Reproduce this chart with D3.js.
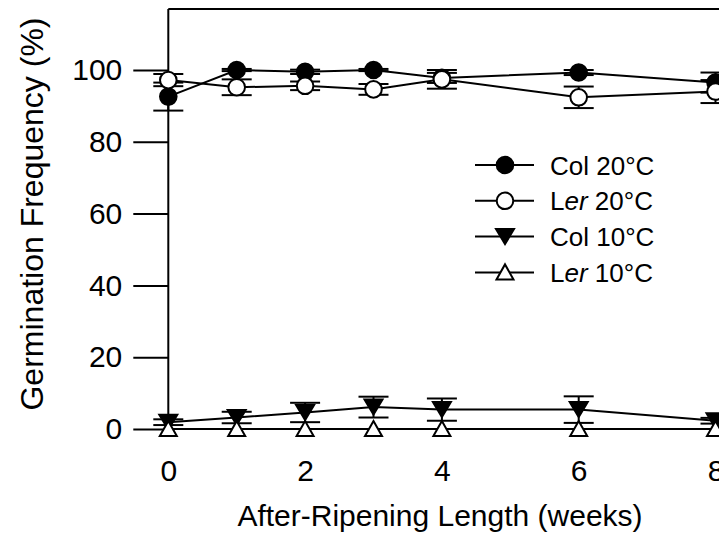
<!DOCTYPE html>
<html>
<head>
<meta charset="utf-8">
<script src="https://cdn.jsdelivr.net/npm/d3@7"></script>
<style>
  html, body { margin: 0; padding: 0; background: #fff; }
  svg { display: block; }
  text { font-family: "Liberation Sans", Arial, sans-serif; fill: #000; }
</style>
</head>
<body>
<svg id="chart" width="719" height="544"></svg>
<script>
// after-ripening length, weeks
var weeks = [0, 1, 2, 3, 4, 6, 8];

// germination frequency (%) and error, per series
var col20 = [92.6, 100, 99.5, 100, 97.8, 99.3, 96.5];
var col20Err = [3.9, 0.3, 0.6, 0.3, 1.4, 0.7, 2.8];
var ler20 = [97.2, 95.2, 95.6, 94.6, 97.4, 92.4, 94.0];
var ler20Err = [1.7, 2.2, 1.2, 1.5, 2.6, 3.0, 3.2];
var col10 = [1.9, 3.2, 4.6, 6.1, 5.4, 5.4, 2.3];
var col10Err = [0.8, 1.6, 2.7, 2.9, 3.1, 3.7, 0.8];
var ler10 = [0, 0, 0, 0, 0, 0, 0];
var ler10Err = [0, 0, 0, 0, 0, 0, 0];

var yTicks = [0, 20, 40, 60, 80, 100];
var xTicks = [0, 2, 4, 6, 8];

var seriesNames = ['Col 20°C', 'Ler 20°C', 'Col 10°C', 'Ler 10°C'];

var svg = d3.select('#chart');

var x = d3.scaleLinear().domain([0, 8]).range([168.3, 715.5]);
var y = d3.scaleLinear().domain([0, 117]).range([429, 9]);

// marker shapes
var tri = 'M -9 -7.5 L 9 -7.5 L 0 7.5 Z';    // pointing down
var triUp = 'M -8.5 7 L 8.5 7 L 0 -8 Z';     // pointing up

var series = [
  {name: seriesNames[0], values: col20, err: col20Err, shape: 'circle', fill: '#000'},
  {name: seriesNames[2], values: col10, err: col10Err, shape: 'down', fill: '#000'},
  {name: seriesNames[1], values: ler20, err: ler20Err, shape: 'circle', fill: '#fff'},
  {name: seriesNames[3], values: ler10, err: ler10Err, shape: 'up', fill: '#fff'}
];

function drawMarker(g, shape, fill) {
  if (shape === 'circle') {
    g.append('circle').attr('r', 8.3)
      .attr('fill', fill).attr('stroke', '#000').attr('stroke-width', 2);
  } else {
    g.append('path').attr('d', shape === 'down' ? tri : triUp)
      .attr('fill', fill).attr('stroke', '#000').attr('stroke-width', 2)
      .attr('stroke-linejoin', 'miter');
  }
}

// frame lines (top, bottom)
svg.append('line').attr('x1', x(0)).attr('x2', 730).attr('y1', y(117)).attr('y2', y(117))
  .attr('stroke', '#000').attr('stroke-width', 2);
svg.append('line').attr('x1', x(0)).attr('x2', 730).attr('y1', y(0)).attr('y2', y(0))
  .attr('stroke', '#000').attr('stroke-width', 2);

// y axis
var yAxis = svg.append('g')
  .attr('transform', 'translate(' + x(0) + ',0)')
  .call(d3.axisLeft(y).tickValues(yTicks).tickSize(35).tickSizeOuter(0).tickPadding(11));
yAxis.select('.domain').attr('stroke-width', 2).attr('d', 'M0,' + y(117) + 'V' + y(0));
yAxis.selectAll('.tick line').attr('stroke-width', 2);
yAxis.selectAll('.tick text').attr('font-size', 30).attr('fill', '#000')
  .style('font-family', '"Liberation Sans", Arial, sans-serif');

// x axis
var xAxis = svg.append('g')
  .attr('transform', 'translate(0,' + y(0) + ')')
  .call(d3.axisBottom(x).tickValues(xTicks).tickSize(0).tickPadding(31));
xAxis.select('.domain').remove();
xAxis.selectAll('.tick text').attr('font-size', 30).attr('fill', '#000')
  .style('font-family', '"Liberation Sans", Arial, sans-serif');

// axis titles
svg.append('text')
  .attr('x', 440).attr('y', 526)
  .attr('text-anchor', 'middle').attr('font-size', 30)
  .text('After-Ripening Length (weeks)');

svg.append('text')
  .attr('transform', 'translate(43,214) rotate(-90)')
  .attr('text-anchor', 'middle').attr('font-size', 32)
  .text('Germination Frequency (%)');

// series: line, error bars, markers
var line = d3.line()
  .x(function (d) { return x(d.w); })
  .y(function (d) { return y(d.v); });

series.forEach(function (s) {
  var pts = weeks.map(function (w, i) { return {w: w, v: s.values[i], e: s.err[i]}; });
  var g = svg.append('g');

  g.append('path').datum(pts).attr('d', line)
    .attr('fill', 'none').attr('stroke', '#000').attr('stroke-width', 2);

  var eb = g.selectAll('g.err').data(pts.filter(function (d) { return d.e > 0; }))
    .enter().append('g').attr('class', 'err');
  eb.append('line')
    .attr('x1', function (d) { return x(d.w); }).attr('x2', function (d) { return x(d.w); })
    .attr('y1', function (d) { return y(d.v - d.e); }).attr('y2', function (d) { return y(d.v + d.e); })
    .attr('stroke', '#000').attr('stroke-width', 2);
  [-1, 1].forEach(function (sign) {
    eb.append('line')
      .attr('x1', function (d) { return x(d.w) - 15; }).attr('x2', function (d) { return x(d.w) + 15; })
      .attr('y1', function (d) { return y(d.v + sign * d.e); })
      .attr('y2', function (d) { return y(d.v + sign * d.e); })
      .attr('stroke', '#000').attr('stroke-width', 2);
  });

  g.selectAll('g.mk').data(pts).enter().append('g').attr('class', 'mk')
    .attr('transform', function (d) { return 'translate(' + x(d.w) + ',' + y(d.v) + ')'; })
    .each(function () { drawMarker(d3.select(this), s.shape, s.fill); });
});

// legend
var legendItems = [
  {strain: 'Col', temp: ' 20°C', shape: 'circle', fill: '#000', italic: false},
  {strain: 'Ler', temp: ' 20°C', shape: 'circle', fill: '#fff', italic: true},
  {strain: 'Col', temp: ' 10°C', shape: 'down', fill: '#000', italic: false},
  {strain: 'Ler', temp: ' 10°C', shape: 'up', fill: '#fff', italic: true}
];

var legend = svg.append('g').attr('transform', 'translate(475,165)');
legendItems.forEach(function (d, i) {
  var row = legend.append('g').attr('transform', 'translate(0,' + (i * 35.8) + ')');
  row.append('line').attr('x1', 0).attr('x2', 59).attr('y1', 0).attr('y2', 0)
    .attr('stroke', '#000').attr('stroke-width', 2);
  var m = row.append('g').attr('transform', 'translate(30,0)');
  drawMarker(m, d.shape, d.fill);
  var t = row.append('text').attr('x', 75).attr('y', 9.5).attr('font-size', 26);
  if (d.italic) {
    t.append('tspan').text('L');
    t.append('tspan').attr('font-style', 'italic').text('er');
  } else {
    t.append('tspan').text(d.strain);
  }
  t.append('tspan').text(d.temp);
});
</script>
</body>
</html>
